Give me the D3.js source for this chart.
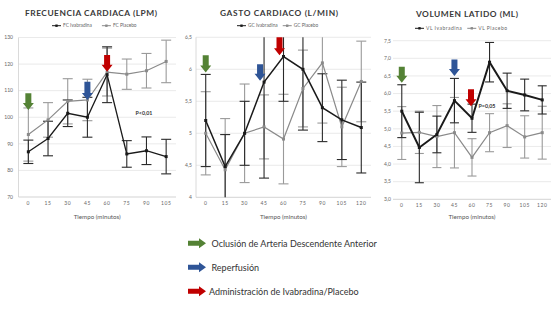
<!DOCTYPE html>
<html>
<head>
<meta charset="utf-8">
<script src="https://cdn.jsdelivr.net/npm/d3@7"></script>
<style>
  body { margin: 0; background: #fff; }
  text { font-family: Lato, "Open Sans", sans-serif; }
</style>
</head>
<body>
<svg id="chart" width="560" height="316"></svg>
<script>
// ---- data ----
var fcTimes = [0, 15, 30, 45, 60, 75, 90, 105];
var fcIvab = [87, 92, 101.5, 100, 116, 86.2, 87.4, 85.2];
var fcIvabErr = [4.4, 6.5, 5, 7.5, 10.5, 5, 5.2, 6.5];
var fcPlac = [93.5, 99, 106, 106.5, 117, 116.2, 117.5, 121];
var fcPlacErr = [10, 6.5, 8.5, 7.8, 9, 5.7, 6.5, 8];
var fcTicks = [70, 80, 90, 100, 110, 120, 130];

var gcTimes = [0, 15, 30, 45, 60, 75, 90, 105, 120];
var gcIvab = [5.2, 4.48, 5.0, 5.8, 6.2, 6.0, 5.4, 5.21, 5.09];
var gcIvabErr = [0.72, 0.5, 0.5, 1.5, 0.7, 0.95, 0.53, 0.62, 0.71];
var gcPlac = [5.0, 4.43, 5.0, 5.1, 4.91, 5.7, 6.1, 5.1, 5.81];
var gcPlacErr = [0.65, 0.8, 0.77, 0.5, 0.7, 0.6, 0.94, 0.62, 0.63];
var gcTicks = [4, 4.5, 5, 5.5, 6, 6.5];

var vlTimes = [0, 15, 30, 45, 60, 75, 90, 105, 120];
var vlIvab = [5.5, 4.47, 4.84, 5.8, 5.3, 6.89, 6.08, 5.96, 5.82];
var vlIvabErr = [0.75, 1.0, 0.52, 0.63, 0.4, 0.56, 0.5, 0.45, 0.4];
var vlPlac = [4.88, 4.9, 4.78, 4.89, 4.19, 4.89, 5.09, 4.77, 4.89];
var vlPlacErr = [0.75, 0.6, 0.88, 1.0, 0.53, 0.54, 0.62, 0.6, 0.75];
var vlTicks = [3, 3.5, 4, 4.5, 5, 5.5, 6, 6.5, 7, 7.5];

// event arrows: [time, top value, bottom value, event]
var fcArrows = [[0, 109, 102.7, "occ"], [45, 113.4, 106.5, "rep"], [60, 123.4, 117.1, "adm"]];
var gcArrows = [[0, 6.22, 5.95, "occ"], [45, 6.08, 5.82, "rep"], [60, 6.5, 6.22, "adm"]];
var vlArrows = [[0, 6.76, 6.31, "occ"], [45, 6.97, 6.5, "rep"], [60, 6.12, 5.64, "adm"]];

var events = ["occ", "rep", "adm"];
var eventLabels = ["Oclusión de Arteria Descendente Anterior", "Reperfusión", "Administración de Ivabradina/Placebo"];
var eventColors = d3.scaleOrdinal().domain(events).range(["#548235", "#2f5597", "#c00000"]);

var svg = d3.select("#chart");
svg.append("rect").attr("width", 560).attr("height", 316).attr("fill", "#fff");

var commaFmt = function (f) {
  return function (d) { return d3.format(f)(d).replace(".", ","); };
};

function downArrow(g, cx, y0, y1, color, shift) {
  var hw = 5.5, bw = 3, hh = 7;
  cx = cx + (shift || 0);
  g.append("path")
    .attr("d", "M" + (cx - bw) + "," + y0 + "H" + (cx + bw) + "V" + (y1 - hh) + "H" + (cx + hw) +
      "L" + cx + "," + y1 + "L" + (cx - hw) + "," + (y1 - hh) + "H" + (cx - bw) + "Z")
    .attr("fill", color);
}

function drawPanel(c) {
  var g = svg.append("g");
  var x = d3.scalePoint().domain(c.times).range(c.xRange).padding(0.5);
  var y = d3.scaleLinear().domain(c.yDomain).range(c.yRange);
  var x0 = c.xRange[0], x1 = c.xRange[1];

  // grid
  g.selectAll(".grid").data(c.ticks).enter().append("line")
    .attr("x1", x0).attr("x2", x1)
    .attr("y1", function (d) { return y(d); }).attr("y2", function (d) { return y(d); })
    .attr("stroke", function (d, i) { return i == 0 ? "#c8c8c8" : "#e4e4e4"; })
    .attr("stroke-width", 0.8);
  if (c.leftLine) {
    g.append("line").attr("x1", x0).attr("x2", x0).attr("y1", c.yRange[1]).attr("y2", c.yRange[0])
      .attr("stroke", "#d0d0d0").attr("stroke-width", 0.8);
  }

  // axes labels
  g.selectAll(".yl").data(c.ticks).enter().append("text")
    .attr("x", c.yLabelX).attr("y", function (d) { return y(d) + 1.8; })
    .attr("text-anchor", "end").attr("font-size", 5).attr("fill", "#666")
    .text(c.fmt);
  g.selectAll(".xl").data(c.times).enter().append("text")
    .attr("x", function (d) { return x(d); }).attr("y", c.yRange[0] + 7.5)
    .attr("text-anchor", "middle").attr("font-size", 5).attr("fill", "#666")
    .attr("letter-spacing", 0.6)
    .text(function (d) { return d; });
  g.append("text").attr("x", (x0 + x1) / 2).attr("y", 219)
    .attr("text-anchor", "middle").attr("font-size", 6.2).attr("fill", "#555")
    .text("Tiempo (minutos)");

  // title
  g.append("text").attr("x", c.titleX).attr("y", c.titleY)
    .attr("text-anchor", "middle").attr("font-size", 8.4).attr("font-weight", "bold")
    .attr("textLength", c.titleW).attr("lengthAdjust", "spacing").attr("fill", "#3a3a3a")
    .text(c.title);

  // series
  var series = [
    { name: c.names[1], v: c.plac, e: c.placErr, col: "#8a8a8a", ecol: "#9a9a9a", w: 1.2 },
    { name: c.names[0], v: c.ivab, e: c.ivabErr, col: "#1a1a1a", ecol: "#2a2a2a", w: c.blackW }
  ];
  var lo = c.yDomain[0], hi = c.yDomain[1];
  series.forEach(function (s) {
    var eg = g.append("g");
    c.times.forEach(function (t, i) {
      var a = Math.max(lo, s.v[i] - s.e[i]), b = Math.min(hi, s.v[i] + s.e[i]);
      eg.append("line").attr("x1", x(t)).attr("x2", x(t)).attr("y1", y(a)).attr("y2", y(b))
        .attr("stroke", s.ecol).attr("stroke-width", 1.1);
      [s.v[i] - s.e[i], s.v[i] + s.e[i]].forEach(function (cv) {
        if (cv < lo || cv > hi) return;
        eg.append("line").attr("x1", x(t) - c.cap).attr("x2", x(t) + c.cap)
          .attr("y1", y(cv)).attr("y2", y(cv))
          .attr("stroke", s.ecol).attr("stroke-width", 1.1);
      });
    });
  });
  series.forEach(function (s) {
    var line = d3.line().x(function (d, i) { return x(c.times[i]); }).y(function (d) { return y(d); });
    g.append("path").datum(s.v).attr("d", line).attr("fill", "none")
      .attr("stroke", s.col).attr("stroke-width", s.w);
    g.selectAll(null).data(s.v).enter().append("rect")
      .attr("x", function (d, i) { return x(c.times[i]) - 1.5; })
      .attr("y", function (d) { return y(d) - 1.5; })
      .attr("width", 3).attr("height", 3).attr("fill", s.col);
  });

  // legend
  var lx = c.legendX;
  [series[1], series[0]].forEach(function (s) {
    g.append("line").attr("x1", lx).attr("x2", lx + 9).attr("y1", c.legendY).attr("y2", c.legendY)
      .attr("stroke", s.col).attr("stroke-width", 1);
    g.append("rect").attr("x", lx + 3.3).attr("y", c.legendY - 1.2).attr("width", 2.4).attr("height", 2.4)
      .attr("fill", s.col);
    var t = g.append("text").attr("x", lx + 11).attr("y", c.legendY + 1.7)
      .attr("font-size", c.legendFont).attr("fill", "#666").attr("letter-spacing", c.legendSpacing)
      .text(s.name);
    lx += 11 + t.node().getComputedTextLength() + c.legendGap;
  });

  // arrows
  c.arrows.forEach(function (a) {
    downArrow(g, x(a[0]), y(a[1]), y(a[2]), eventColors(a[3]), a[4]);
  });

  if (c.pText) {
    g.append("text").attr("x", c.pX).attr("y", y(c.pY)).attr("text-anchor", "middle")
      .attr("font-size", 5.3).attr("font-weight", "bold").attr("fill", "#333")
      .text(c.pText);
  }
}

gcArrows[1][4] = -4; gcArrows[2][4] = -4; vlArrows[2][4] = -1;

drawPanel({
  times: fcTimes, ivab: fcIvab, ivabErr: fcIvabErr, plac: fcPlac, placErr: fcPlacErr,
  ticks: fcTicks, fmt: d3.format("d"), yDomain: [70, 130], yRange: [197, 37.5], xRange: [18.5, 176],
  yLabelX: 13, leftLine: true, cap: 5, blackW: 1.3,
  title: "FRECUENCIA CARDIACA (LPM)", titleX: 91, titleY: 15.5, titleW: 132,
  names: ["FC Ivabradina", "FC Placebo"], legendX: 52, legendY: 25.7, legendFont: 4.8, legendSpacing: 0, legendGap: 10,
  arrows: fcArrows, pText: "P<0,01", pX: 144, pY: 100.8
});
drawPanel({
  times: gcTimes, ivab: gcIvab, ivabErr: gcIvabErr, plac: gcPlac, placErr: gcPlacErr,
  ticks: gcTicks, fmt: commaFmt(""), yDomain: [4, 6.5], yRange: [197.3, 37.3], xRange: [196, 371],
  yLabelX: 192, leftLine: true, cap: 5, blackW: 1.5,
  title: "GASTO CARDIACO (L/MIN)", titleX: 279, titleY: 15.5, titleW: 118,
  names: ["GC Ivabradina", "GC Placebo"], legendX: 237, legendY: 25.7, legendFont: 4.8, legendSpacing: 0, legendGap: 5,
  arrows: gcArrows
});
drawPanel({
  times: vlTimes, ivab: vlIvab, ivabErr: vlIvabErr, plac: vlPlac, placErr: vlPlacErr,
  ticks: vlTicks, fmt: commaFmt(".1f"), yDomain: [3, 7.5], yRange: [199.3, 40.7], xRange: [393, 551],
  yLabelX: 391, leftLine: false, cap: 4.5, blackW: 2,
  title: "VOLUMEN LATIDO (ML)", titleX: 467, titleY: 17, titleW: 102,
  names: ["VL Ivabradina", "VL Placebo"], legendX: 415, legendY: 28.3, legendFont: 5, legendSpacing: 0.5, legendGap: 5,
  arrows: vlArrows, pText: "P=0,05", pX: 487, pY: 5.6
});

// bottom key
var key = svg.append("g");
events.forEach(function (ev, i) {
  var cy = 243.3 + i * 24;
  key.append("path")
    .attr("d", "M188," + (cy - 2.5) + "H199V" + (cy - 5) + "L206," + cy + "L199," + (cy + 5) + "V" + (cy + 2.5) + "H188Z")
    .attr("fill", eventColors(ev));
  key.append("text").attr("x", i == 2 ? 209 : 211.5).attr("y", cy + 3.2)
    .attr("font-size", 9).attr("fill", "#333")
    .text(eventLabels[i]);
});
</script>
</body>
</html>
